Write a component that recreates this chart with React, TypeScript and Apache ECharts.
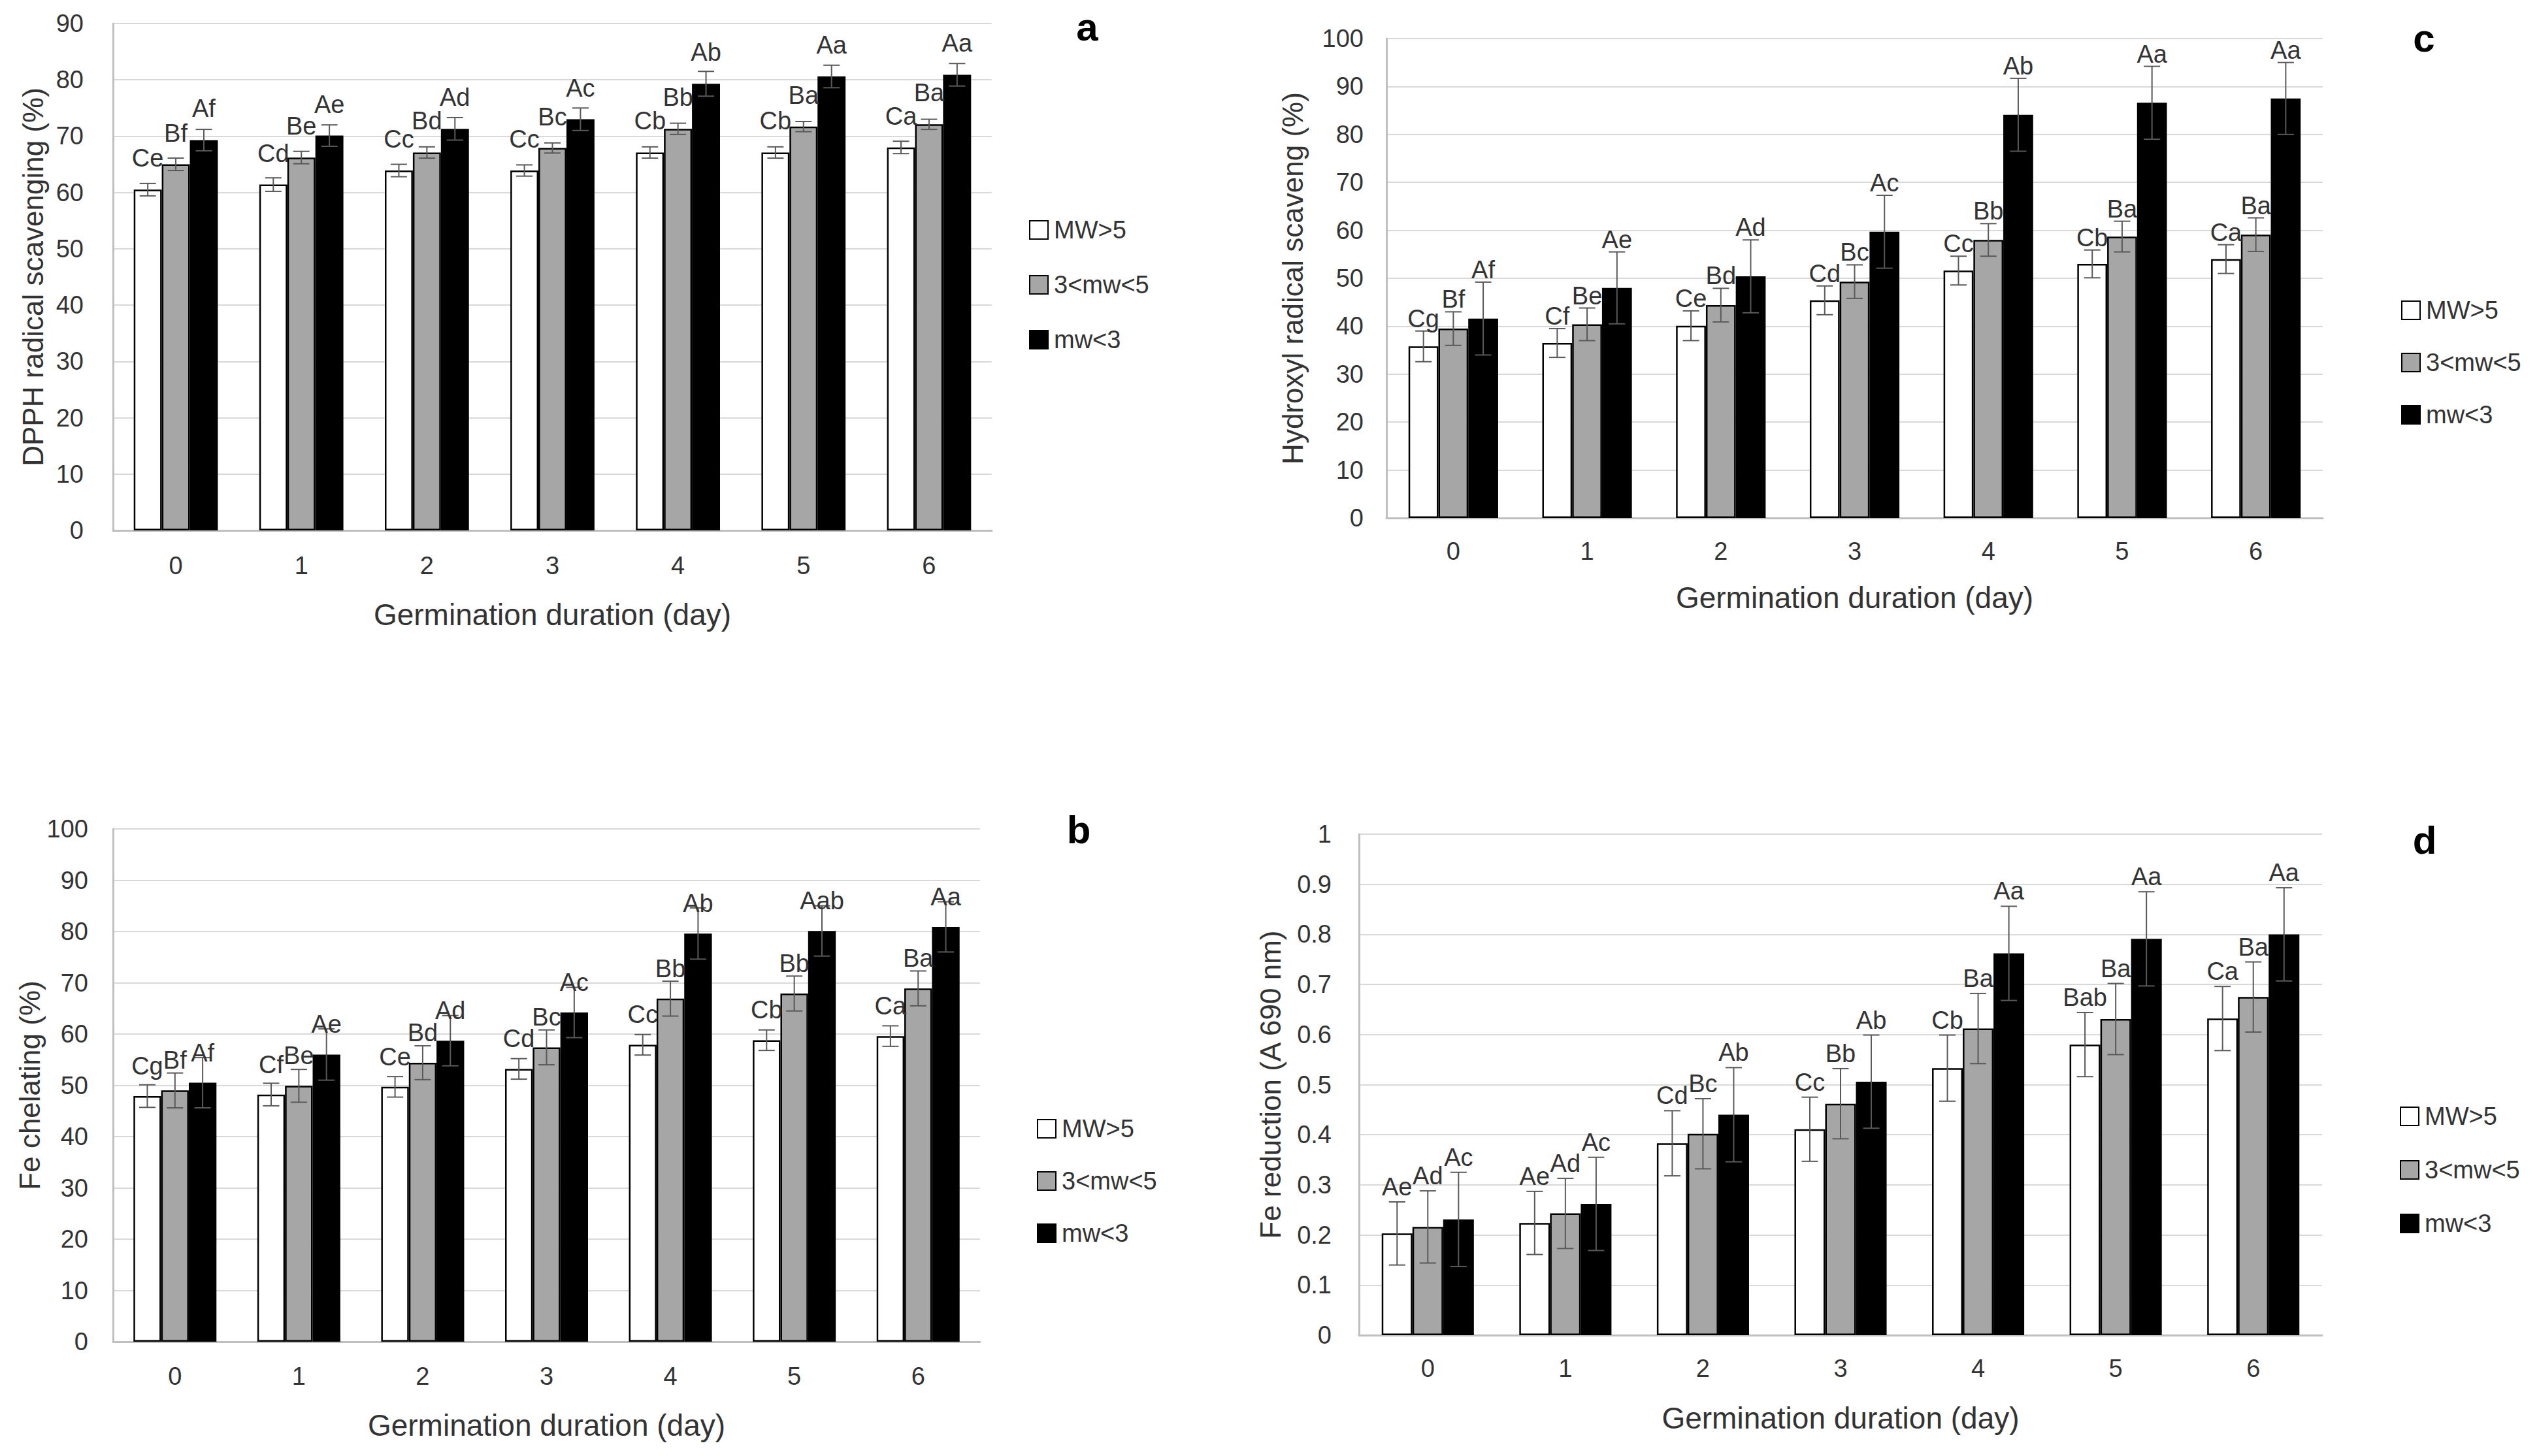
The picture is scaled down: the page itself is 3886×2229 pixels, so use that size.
import React, { useEffect, useRef } from "react";
import * as echarts from "echarts";

// ---------- data ----------
const days = ["0", "1", "2", "3", "4", "5", "6"];
const groupNames = ["MW>5", "3<mw<5", "mw<3"];
const xTitle = "Germination duration (day)";

// (a) DPPH radical scavenging (%)
const dpphMW5 = [60.5, 61.4, 63.9, 63.9, 67.1, 67.1, 68.0];
const dpphMid = [65.0, 66.2, 67.1, 67.9, 71.3, 71.7, 72.1];
const dpphMW3 = [69.3, 70.1, 71.3, 73.0, 79.3, 80.6, 80.9];
const dpphErrMW5 = [1.1, 1.2, 1.1, 1.0, 1.0, 1.0, 1.1];
const dpphErrMid = [1.1, 1.1, 1.0, 0.9, 1.0, 0.9, 0.9];
const dpphErrMW3 = [1.9, 1.9, 2.0, 2.0, 2.2, 2.0, 2.0];
const dpphLblMW5 = ["Ce", "Cd", "Cc", "Cc", "Cb", "Cb", "Ca"];
const dpphLblMid = ["Bf", "Be", "Bd", "Bc", "Bb", "Ba", "Ba"];
const dpphLblMW3 = ["Af", "Ae", "Ad", "Ac", "Ab", "Aa", "Aa"];

// (c) Hydroxyl radical scavenging (%)
const hydMW5 = [35.8, 36.5, 40.1, 45.4, 51.6, 53.0, 54.0];
const hydMid = [39.5, 40.4, 44.4, 49.3, 58.0, 58.7, 59.1];
const hydMW3 = [41.6, 48.0, 50.4, 59.7, 84.1, 86.6, 87.5];
const hydErrMW5 = [3.2, 3.0, 3.1, 3.0, 3.0, 2.9, 3.0];
const hydErrMid = [3.5, 3.4, 3.5, 3.5, 3.4, 3.2, 3.5];
const hydErrMW3 = [7.6, 7.5, 7.6, 7.6, 7.6, 7.6, 7.5];
const hydLblMW5 = ["Cg", "Cf", "Ce", "Cd", "Cc", "Cb", "Ca"];
const hydLblMid = ["Bf", "Be", "Bd", "Bc", "Bb", "Ba", "Ba"];
const hydLblMW3 = ["Af", "Ae", "Ad", "Ac", "Ab", "Aa", "Aa"];

// (b) Fe chelating (%)
const chelMW5 = [47.9, 48.2, 49.7, 53.2, 57.9, 58.8, 59.6];
const chelMid = [49.0, 49.9, 54.4, 57.4, 66.9, 67.9, 68.9];
const chelMW3 = [50.5, 56.0, 58.7, 64.2, 79.6, 80.1, 80.9];
const chelErrMW5 = [2.2, 2.2, 2.0, 2.0, 2.0, 2.0, 2.0];
const chelErrMid = [3.4, 3.2, 3.3, 3.4, 3.4, 3.4, 3.4];
const chelErrMW3 = [4.9, 5.0, 4.9, 4.9, 5.0, 4.9, 4.9];
const chelLblMW5 = ["Cg", "Cf", "Ce", "Cd", "Cc", "Cb", "Ca"];
const chelLblMid = ["Bf", "Be", "Bd", "Bc", "Bb", "Bb", "Ba"];
const chelLblMW3 = ["Af", "Ae", "Ad", "Ac", "Ab", "Aab", "Aa"];

// (d) Fe reduction (A 690 nm)
const redMW5 = [0.203, 0.224, 0.383, 0.411, 0.533, 0.58, 0.632];
const redMid = [0.216, 0.243, 0.402, 0.462, 0.612, 0.631, 0.675];
const redMW3 = [0.231, 0.262, 0.44, 0.506, 0.762, 0.791, 0.8];
const redErrMW5 = [0.063, 0.063, 0.065, 0.064, 0.066, 0.064, 0.064];
const redErrMid = [0.072, 0.07, 0.07, 0.07, 0.07, 0.071, 0.07];
const redErrMW3 = [0.094, 0.093, 0.094, 0.093, 0.094, 0.094, 0.093];
const redLblMW5 = ["Ae", "Ae", "Cd", "Cc", "Cb", "Bab", "Ca"];
const redLblMid = ["Ad", "Ad", "Bc", "Bb", "Ba", "Ba", "Ba"];
const redLblMW3 = ["Ac", "Ac", "Ab", "Ab", "Aa", "Aa", "Aa"];

// ---------- panels ----------
const panelData = [
  {
    letter: "a", yTitle: "DPPH radical scavenging (%)", yMax: 90, yInterval: 10,
    values: [dpphMW5, dpphMid, dpphMW3], errors: [dpphErrMW5, dpphErrMid, dpphErrMW3],
    labels: [dpphLblMW5, dpphLblMid, dpphLblMW3],
  },
  {
    letter: "c", yTitle: "Hydroxyl radical scaveng (%)", yMax: 100, yInterval: 10,
    values: [hydMW5, hydMid, hydMW3], errors: [hydErrMW5, hydErrMid, hydErrMW3],
    labels: [hydLblMW5, hydLblMid, hydLblMW3],
  },
  {
    letter: "b", yTitle: "Fe chelating (%)", yMax: 100, yInterval: 10,
    values: [chelMW5, chelMid, chelMW3], errors: [chelErrMW5, chelErrMid, chelErrMW3],
    labels: [chelLblMW5, chelLblMid, chelLblMW3],
  },
  {
    letter: "d", yTitle: "Fe reduction (A 690 nm)", yMax: 1, yInterval: 0.1,
    values: [redMW5, redMid, redMW3], errors: [redErrMW5, redErrMid, redErrMW3],
    labels: [redLblMW5, redLblMid, redLblMW3],
  },
];

// layout (pixels)
const panelLayout = [
  { left: 173, top: 36, width: 1345, height: 776, yLabelMargin: 45, yNameGap: 101, xLabelMargin: 35, xNameGap: 106,
    legendLeft: 1570, legendTop: 327, legendGap: 44, letterX: 1664, letterY: 71, lblMode: "bar", lblOff: 29 },
  { left: 2122, top: 59, width: 1433, height: 734, yLabelMargin: 35, yNameGap: 122, xLabelMargin: 32, xNameGap: 99,
    legendLeft: 3670, legendTop: 450, legendGap: 40, letterX: 3710, letterY: 88, lblMode: "err", lblOff: 0 },
  { left: 173, top: 1269, width: 1327, height: 785, yLabelMargin: 38, yNameGap: 105, xLabelMargin: 34, xNameGap: 105,
    legendLeft: 1582, legendTop: 1703, legendGap: 40, letterX: 1651, letterY: 1300, lblMode: "bar", lblOff: 27 },
  { left: 2080, top: 1277, width: 1474, height: 767, yLabelMargin: 42, yNameGap: 114, xLabelMargin: 32, xNameGap: 104,
    legendLeft: 3668, legendTop: 1684, legendGap: 42, letterX: 3711, letterY: 1316, lblMode: "err", lblOff: 4 },
];

const fills = ["#ffffff", "#a6a6a6", "#000000"];
const FONT = '"Liberation Sans", Arial, sans-serif';
const TXT = "#333333";
const CAT_GAP = 0.33;

function buildOption() {
  const grid: any[] = [];
  const xAxis: any[] = [];
  const yAxis: any[] = [];
  const series: any[] = [];
  const legend: any[] = [];
  const graphic: any[] = [];

  panelData.forEach((p, pi) => {
    const L = panelLayout[pi];
    grid.push({ left: L.left, top: L.top, width: L.width, height: L.height, containLabel: false, outerBoundsMode: "none" });
    xAxis.push({
      type: "category", gridIndex: pi, data: days,
      axisLine: { show: true, lineStyle: { color: "#bfbfbf", width: 3 } },
      axisTick: { show: false },
      axisLabel: { fontSize: 38, color: TXT, fontFamily: FONT, margin: L.xLabelMargin },
      name: xTitle, nameLocation: "middle", nameGap: L.xNameGap,
      nameTextStyle: { fontSize: 46, color: TXT, fontFamily: FONT },
    });
    yAxis.push({
      type: "value", gridIndex: pi, min: 0, max: p.yMax, interval: p.yInterval,
      axisLine: { show: true, lineStyle: { color: "#bfbfbf", width: 3 } },
      axisTick: { show: false },
      splitLine: { show: true, lineStyle: { color: "#d9d9d9", width: 2 } },
      axisLabel: { fontSize: 38, color: TXT, fontFamily: FONT, margin: L.yLabelMargin },
      name: p.yTitle, nameLocation: "middle", nameRotate: 90, nameGap: L.yNameGap,
      nameTextStyle: { fontSize: 44, color: TXT, fontFamily: FONT },
    });

    groupNames.forEach((gName, g) => {
      series.push({
        type: "bar", name: gName, xAxisIndex: pi, yAxisIndex: pi,
        data: p.values[g],
        barGap: "0%", barCategoryGap: CAT_GAP * 100 + "%",
        itemStyle: { color: fills[g], borderColor: "#000000", borderWidth: 2.5 },
        emphasis: { disabled: true },
      });
    });

    groupNames.forEach((gName, g) => {
      const vals = p.values[g];
      const errs = p.errors[g];
      const lbls = p.labels[g];
      series.push({
        type: "custom", name: gName, xAxisIndex: pi, yAxisIndex: pi,
        data: vals.map((v, i) => [i, v, errs[i]]),
        z: 5,
        renderItem: (params: any, api: any) => {
          const i = api.value(0);
          const v = api.value(1);
          const e = api.value(2);
          const band = api.size([1, 0])[0];
          const barW = (band * (1 - CAT_GAP)) / 3;
          const base = api.coord([i, v]);
          const cx = base[0] + (g - 1) * barW;
          const yTop = api.coord([i, v + e])[1];
          const yBot = api.coord([i, v - e])[1];
          const ly = L.lblMode === "bar" ? base[1] - L.lblOff : yTop - L.lblOff;
          const ls = { stroke: "#595959", lineWidth: 2 };
          const cap = 12.5;
          return {
            type: "group",
            children: [
              { type: "line", shape: { x1: cx, y1: yTop, x2: cx, y2: yBot }, style: ls },
              { type: "line", shape: { x1: cx - cap, y1: yTop, x2: cx + cap, y2: yTop }, style: ls },
              { type: "line", shape: { x1: cx - cap, y1: yBot, x2: cx + cap, y2: yBot }, style: ls },
              {
                type: "text",
                style: {
                  text: lbls[params.dataIndex], x: cx, y: ly,
                  fill: TXT, font: "38px " + FONT,
                  align: "center", verticalAlign: "bottom",
                  textAlign: "center", textVerticalAlign: "bottom",
                },
              },
            ],
          };
        },
      });
    });

    legend.push({
      data: groupNames, orient: "vertical", left: L.legendLeft, top: L.legendTop,
      itemWidth: 28, itemHeight: 28, itemGap: L.legendGap, icon: "rect",
      textStyle: { fontSize: 38, color: TXT, fontFamily: FONT, lineHeight: 40, padding: [0, 0, 0, 4] },
      selectedMode: false,
    });

    graphic.push({
      type: "text", x: L.letterX, y: L.letterY,
      style: {
        text: p.letter, fill: "#000000", font: "bold 60px " + FONT,
        align: "center", verticalAlign: "bottom", textAlign: "center", textVerticalAlign: "bottom",
      },
    });
  });

  return {
    animation: false,
    backgroundColor: "#ffffff",
    grid, xAxis, yAxis, series, legend, graphic,
  };
}

export default function App() {
  const ref = useRef<HTMLDivElement>(null);
  useEffect(() => {
    document.body.style.margin = "0";
    if (!ref.current) return;
    const chart = echarts.init(ref.current, undefined, { renderer: "svg" });
    chart.setOption(buildOption() as any);
    return () => chart.dispose();
  }, []);
  return <div ref={ref} style={{ width: 3886, height: 2229, background: "#ffffff" }} />;
}
